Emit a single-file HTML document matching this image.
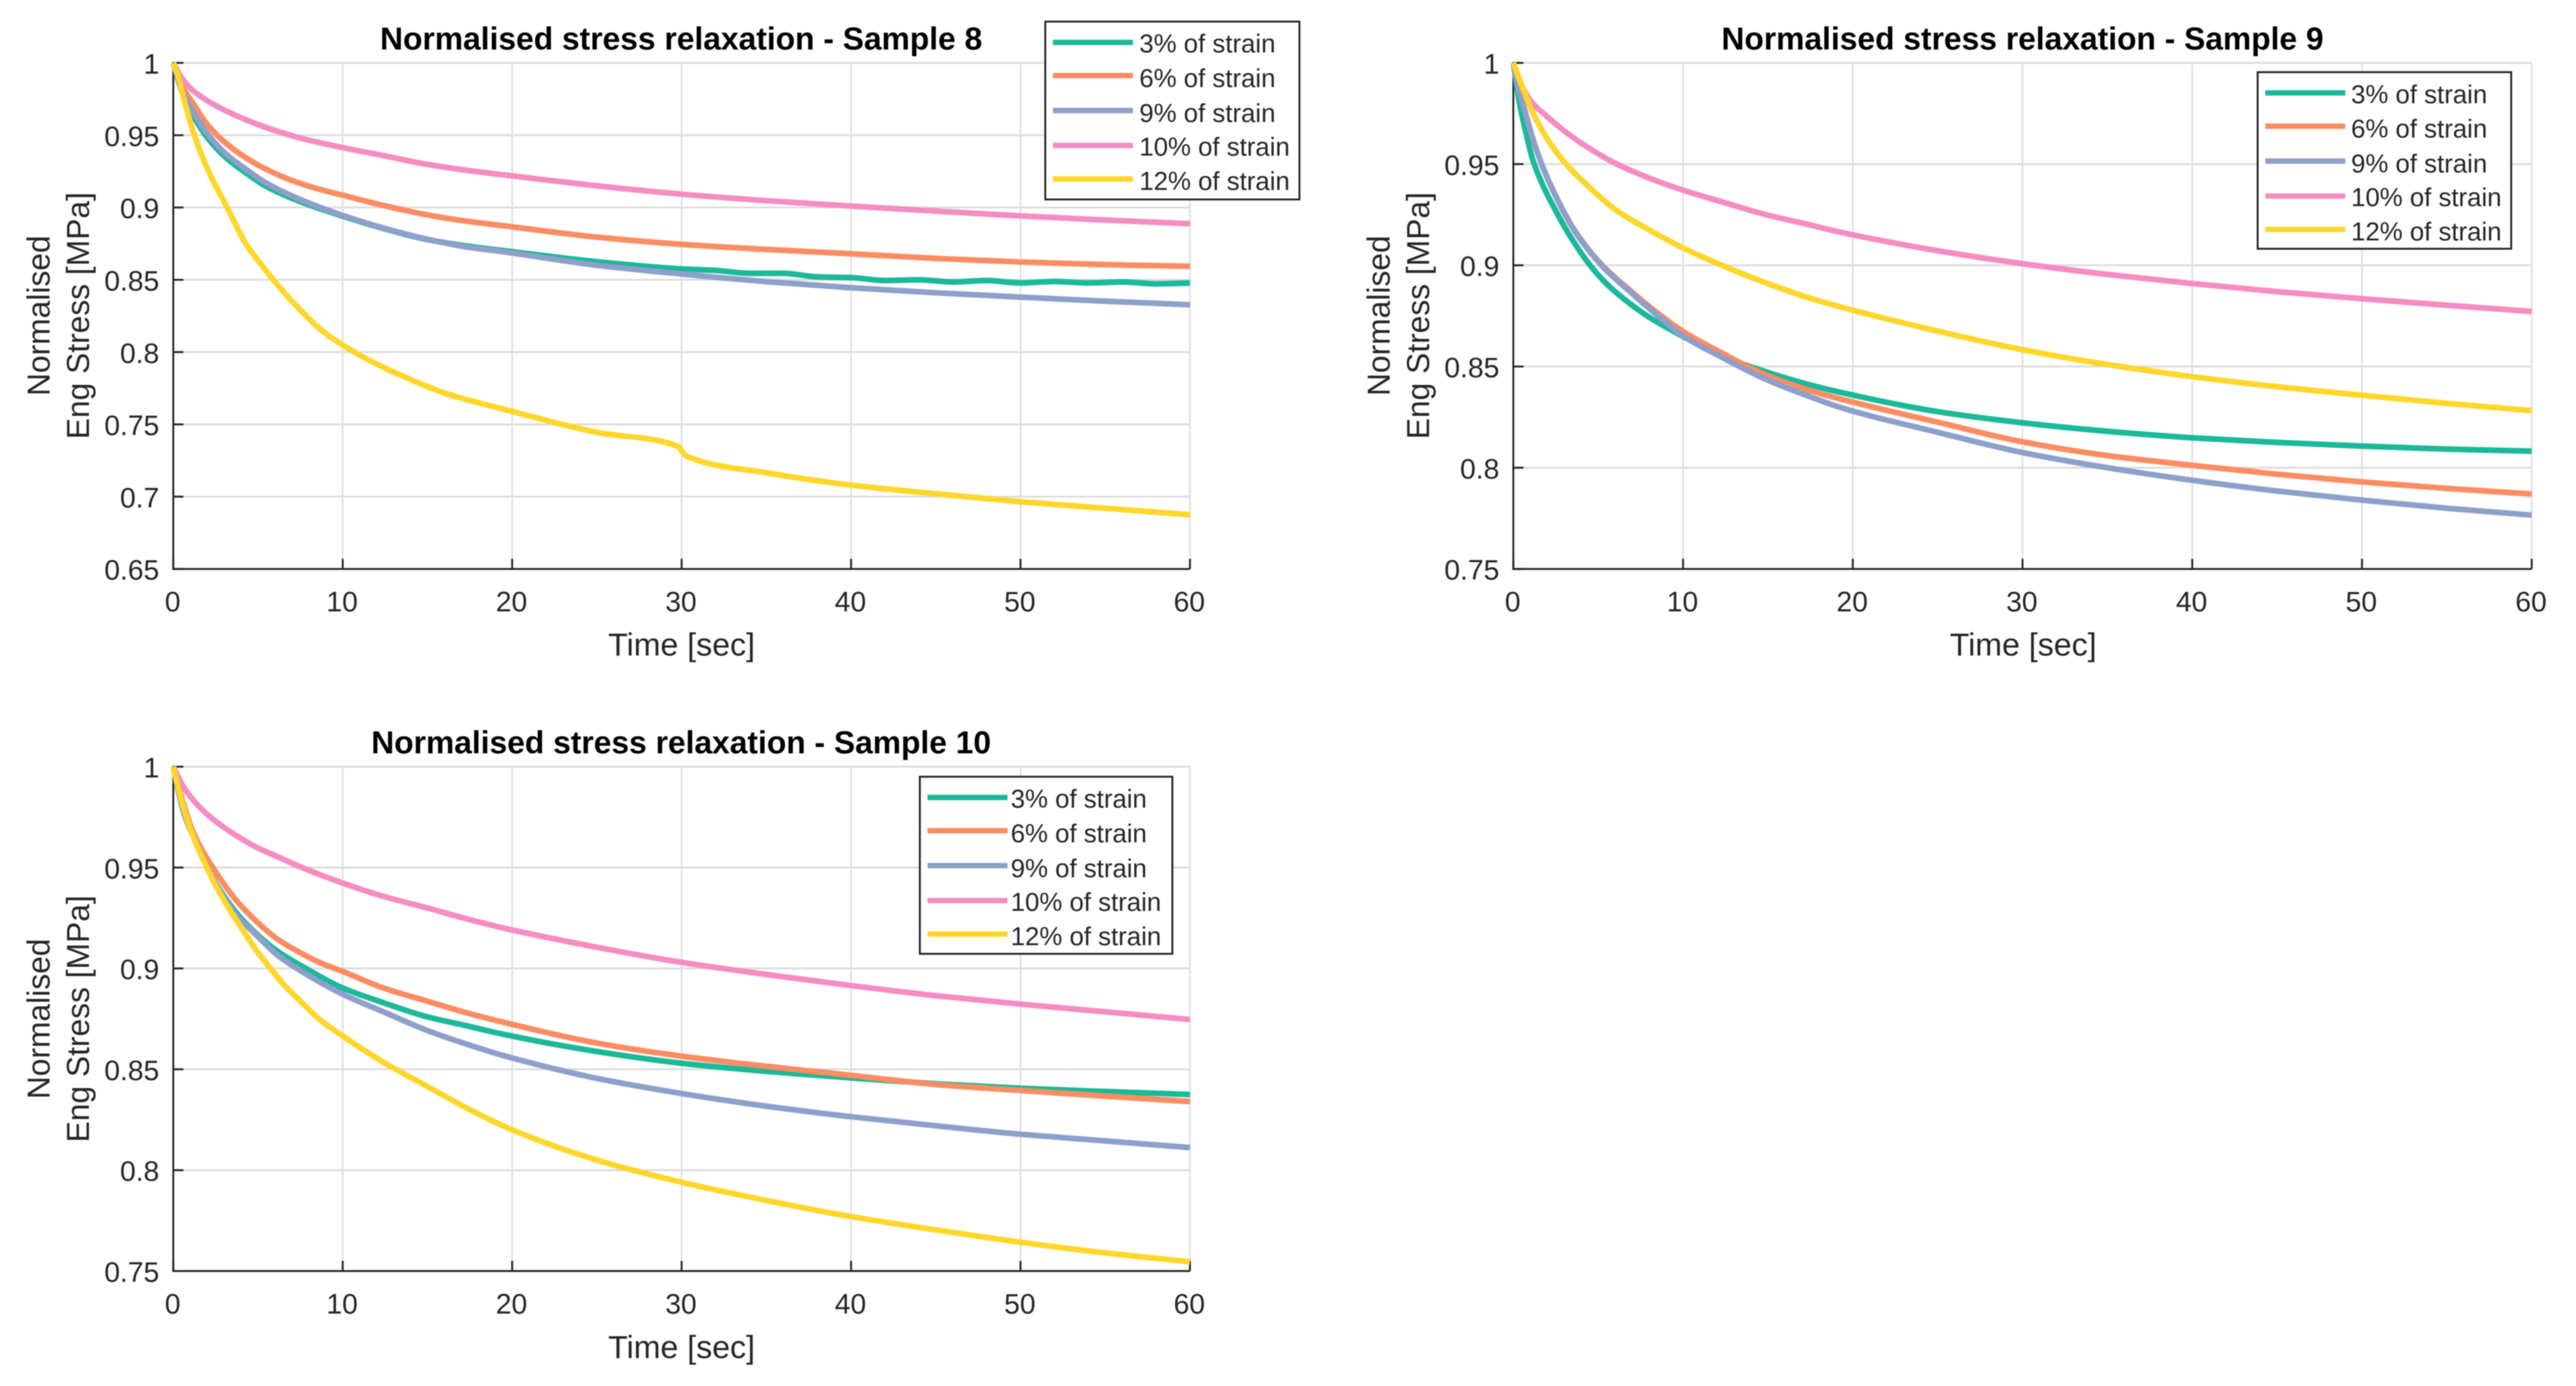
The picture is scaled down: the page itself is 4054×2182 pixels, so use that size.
<!DOCTYPE html>
<html lang="en">
<head>
<meta charset="utf-8">
<title>Normalised stress relaxation</title>
<style>
html,body{margin:0;padding:0;background:#fff;width:4054px;height:2182px;overflow:hidden}
svg{display:block;filter:blur(0.9px)}
text{font-family:"Liberation Sans",Arial,sans-serif;fill:#262626}
</style>
</head>
<body>
<svg id="figure" xmlns="http://www.w3.org/2000/svg" width="4054" height="2182" viewBox="0 0 4054 2182">
<rect width="4054" height="2182" fill="#ffffff"/>
<g id="panel8"></g>
<g id="panel9"></g>
<g id="panel10"></g>
<text x="1072" y="78" text-anchor="middle" font-size="50" font-weight="700" style="fill:#000">Normalised stress relaxation - Sample 8</text>
<text x="3183" y="78" text-anchor="middle" font-size="50" font-weight="700" style="fill:#000">Normalised stress relaxation - Sample 9</text>
<text x="1072" y="1186" text-anchor="middle" font-size="50" font-weight="700" style="fill:#000">Normalised stress relaxation - Sample 10</text>
<text x="1072.7" y="1032" text-anchor="middle" font-size="50.5">Time [sec]</text>
<text x="3184" y="1032" text-anchor="middle" font-size="50.5">Time [sec]</text>
<text x="1072.7" y="2138" text-anchor="middle" font-size="50.5">Time [sec]</text>
<g font-size="50" text-anchor="middle">
<text transform="translate(78,497) rotate(-90)">Normalised</text>
<text transform="translate(140,497) rotate(-90)">Eng Stress [MPa]</text>
</g>
<g font-size="50" text-anchor="middle">
<text transform="translate(2187,497) rotate(-90)">Normalised</text>
<text transform="translate(2249,497) rotate(-90)">Eng Stress [MPa]</text>
</g>
<g font-size="50" text-anchor="middle">
<text transform="translate(78,1604) rotate(-90)">Normalised</text>
<text transform="translate(140,1604) rotate(-90)">Eng Stress [MPa]</text>
</g>
</svg>
<script>
// ---- shared chart data ----
const xTickValues = [0, 10, 20, 30, 40, 50, 60];
const legendLabels = ['3% of strain', '6% of strain', '9% of strain', '10% of strain', '12% of strain'];
const seriesKeys = ['strain-3', 'strain-6', 'strain-9', 'strain-10', 'strain-12'];

// ---- sample 8 ----
const yTicks8 = [0.65, 0.7, 0.75, 0.8, 0.85, 0.9, 0.95, 1];
const t8Strain3 = [0, .3, .6, 1.15, 2, 3.15, 4.3, 5.5, 7.4, 10, 12.4, 14.9, 17.4, 19.4, 25, 30, 32, 34, 36, 38, 40, 42, 44, 46, 48, 50, 52, 54, 56, 58, 60];
const s8Strain3 = [1, .9875, .9775, .964, .9485, .934, .9238, .9145, .9045, .894, .8855, .878, .8732, .8703, .8625, .8575, .8565, .8545, .8545, .852, .8515, .8495, .850, .8485, .8495, .8478, .8488, .8478, .8485, .8472, .8478];
const t8Strain6 = [0, .3, .6, 1.15, 2, 3.15, 4.9, 6.4, 7.4, 8.65, 10, 12.4, 14.9, 17.4, 19.4, 25, 30, 35, 40, 45, 50, 55, 60];
const s8Strain6 = [1, .990, .982, .9723, .9575, .944, .93, .9215, .917, .9125, .9085, .9014, .8951, .8904, .8875, .8795, .8745, .871, .868, .8648, .8623, .8605, .8593];
const t8Strain9 = [0, .3, .6, 1.15, 2, 3.15, 4.3, 5.5, 7.4, 10, 12.4, 14.9, 17.4, 19.4, 25, 30, 35, 40, 45, 50, 55, 60];
const s8Strain9 = [1, .988, .9785, .9666, .9512, .9366, .9263, .9168, .906, .8945, .8858, .8783, .8725, .8695, .86, .854, .8487, .8445, .841, .838, .8352, .8327];
const t8Strain10 = [0, .5, 1.15, 2, 3.15, 4.9, 6.15, 7.4, 10, 12.4, 14.9, 17.4, 19.4, 25, 30, 35, 40, 45, 50, 55, 60];
const s8Strain10 = [1, .9895, .981, .9739, .9666, .9578, .9527, .9483, .9414, .9359, .93, .9256, .9227, .915, .9092, .9047, .901, .8975, .8942, .8913, .8888];
const t8Strain12 = [0, .27, .65, 1.15, 2, 3.15, 3.9, 4.27, 5.15, 6.15, 6.9, 7.8, 8.65, 10, 11.77, 13.65, 16.15, 19.4, 25, 29.8, 30, 30.3, 35, 40, 45, 50, 55, 60];
const s8Strain12 = [1, .9915, .9739, .9534, .927, .9007, .8831, .8751, .8612, .8465, .8365, .8255, .816, .8048, .7931, .7828, .7711, .7608, .7445, .7347, .7317, .728, .7165, .708, .702, .6965, .692, .6875];

// ---- sample 9 ----
const yTicks9 = [0.75, 0.8, 0.85, 0.9, 0.95, 1];
const t9Strain3 = [0, .36, .74, 1.11, 1.74, 2.36, 3.23, 4.48, 5.48, 6.73, 7.98, 9.97, 12.35, 14.85, 17.35, 19.3, 25, 30, 35, 40, 45, 50, 55, 60];
const s9Strain3 = [1, .9803, .9657, .9531, .9395, .9291, .916, .9005, .891, .882, .8745, .865, .855, .8475, .8412, .8372, .8277, .8222, .818, .8148, .8125, .8107, .8092, .8082];
const t9Strain6 = [0, .3, .61, 1.11, 1.74, 2.36, 3.61, 5.23, 6.73, 8.6, 9.97, 12.35, 14.85, 17.35, 19.3, 25, 30, 35, 40, 45, 50, 55, 60];
const s9Strain6 = [1, .9875, .9785, .9635, .9485, .9367, .9173, .9001, .8887, .8757, .8675, .8564, .8459, .8385, .8339, .8225, .8128, .806, .8012, .7968, .793, .7898, .787];
const t9Strain9 = [0, .3, .61, 1.11, 1.74, 2.36, 3.61, 5.23, 6.73, 8.6, 9.97, 12.35, 14.85, 17.35, 19.3, 25, 30, 35, 40, 45, 50, 55, 60];
const s9Strain9 = [1, .9875, .9785, .9635, .9485, .9365, .917, .8997, .888, .8745, .8653, .8543, .8438, .8355, .8297, .8175, .8075, .8, .7938, .7885, .784, .78, .7766];
const t9Strain10 = [0, .5, .8, 1.11, 1.99, 3.11, 4.36, 6.1, 7.98, 9.97, 12.35, 14.85, 17.35, 19.3, 25, 30, 35, 40, 45, 50, 55, 60];
const s9Strain10 = [1, .9887, .984, .9803, .9735, .9657, .9584, .95, .9432, .9372, .9312, .9251, .9202, .9163, .9072, .9008, .8955, .891, .887, .8835, .8803, .8772];
const t9Strain12 = [0, .61, 1.11, 1.99, 3.11, 4.36, 6.1, 7.98, 9.97, 12.35, 14.85, 17.35, 19.3, 25, 30, 35, 40, 45, 50, 55, 60];
const s9Strain12 = [1, .9866, .9762, .9626, .95, .9395, .927, .9176, .9087, .8998, .8914, .8841, .8794, .8675, .8583, .851, .845, .84, .8358, .8318, .8282];

// ---- sample 10 ----
const yTicks10 = [0.75, 0.8, 0.85, 0.9, 0.95, 1];
const t10Strain3 = [0, .3, .65, 1.15, 1.78, 2.28, 3.65, 4.9, 6.15, 7.78, 10, 12.4, 14.9, 17.4, 19.4, 25, 30, 35, 40, 45, 50, 55, 60];
const s10Strain3 = [1, .9879, .9764, .9659, .9538, .9455, .9283, .9172, .9085, .9002, .8903, .883, .8762, .8714, .8675, .8588, .853, .849, .8457, .8428, .8406, .839, .8375];
const t10Strain6 = [0, .53, 1.15, 1.78, 2.4, 3.65, 4.9, 6.15, 7.4, 8.65, 10, 12.4, 14.9, 17.4, 19.4, 25, 30, 35, 40, 45, 50, 55, 60];
const s10Strain6 = [1, .9837, .968, .9575, .9491, .9344, .9234, .9145, .9082, .9029, .8985, .8903, .884, .8778, .8735, .863, .8565, .8515, .847, .8425, .8395, .8367, .834];
const t10Strain9 = [0, .3, .65, 1.15, 1.78, 2.28, 3.65, 4.9, 6.15, 7.78, 10, 12.4, 14.9, 17.4, 19.4, 25, 30, 35, 40, 45, 50, 55, 60];
const s10Strain9 = [1, .9879, .9764, .9659, .9538, .9455, .9271, .9166, .9066, .8975, .8872, .8785, .8695, .8622, .857, .8455, .838, .8317, .8265, .822, .8178, .8145, .8112];
const t10Strain10 = [0, .53, 1.15, 2, 3.15, 4.9, 6.15, 7.4, 10, 12.4, 14.9, 17.4, 19.4, 25, 30, 35, 40, 45, 50, 55, 60];
const s10Strain10 = [1, .9911, .9837, .9764, .969, .9601, .9554, .9507, .9423, .9357, .9302, .9244, .9202, .9105, .903, .897, .8915, .8865, .8823, .8785, .8747];
const t10Strain12 = [0, .28, .65, 1.15, 1.96, 2.4, 3.15, 4.15, 4.9, 5.71, 6.53, 7.4, 8.65, 10, 12.5, 15, 17.5, 20, 25, 30, 35, 40, 45, 50, 55, 60];
const s10Strain12 = [1, .99, .9785, .9659, .9505, .9428, .9315, .9185, .909, .9003, .8919, .8846, .8746, .8665, .853, .8415, .83, .82, .805, .794, .785, .777, .7704, .7643, .759, .7546];

const seriesColors = ['#1ab999', '#fc8c62', '#8da0cb', '#f58cc2', '#ffd62a'];

const panels = [
  { key: 'sample-8', group: 'panel8', left: 272.7, right: 1872.7, top: 99, bottom: 895.7, yTicks: yTicks8,
    times: [t8Strain3, t8Strain6, t8Strain9, t8Strain10, t8Strain12],
    values: [s8Strain3, s8Strain6, s8Strain9, s8Strain10, s8Strain12],
    legend: { x: 1645, y: 34, w: 400, h: 280, textInset: 148 } },
  { key: 'sample-9', group: 'panel9', left: 2381.6, right: 3984.3, top: 99, bottom: 895.7, yTicks: yTicks9,
    times: [t9Strain3, t9Strain6, t9Strain9, t9Strain10, t9Strain12],
    values: [s9Strain3, s9Strain6, s9Strain9, s9Strain10, s9Strain12],
    legend: { x: 3553, y: 113.6, w: 399, h: 278, textInset: 147 } },
  { key: 'sample-10', group: 'panel10', left: 272.7, right: 1872.7, top: 1207, bottom: 2001, yTicks: yTicks10,
    times: [t10Strain3, t10Strain6, t10Strain9, t10Strain10, t10Strain12],
    values: [s10Strain3, s10Strain6, s10Strain9, s10Strain10, s10Strain12],
    legend: { x: 1447.6, y: 1222.8, w: 397.4, h: 278.8, textInset: 143 } }
];

const SVG_NS = 'http://www.w3.org/2000/svg';
function make(parent, tag, attrs) {
  const el = document.createElementNS(SVG_NS, tag);
  for (const k in attrs) el.setAttribute(k, attrs[k]);
  parent.appendChild(el);
  return el;
}

// Monotone cubic path through the data points, mapped through the axis functions.
function curvePath(ts, vs, xAt, yAt) {
  const n = ts.length;
  const xs = ts.map(xAt);
  const ys = vs.map(yAt);
  const d = [];
  for (let i = 0; i < n - 1; i++) d.push((ys[i + 1] - ys[i]) / (xs[i + 1] - xs[i]));
  const m = [d[0]];
  for (let i = 1; i < n - 1; i++) {
    if (d[i - 1] * d[i] <= 0) { m.push(0); continue; }
    const h0 = xs[i] - xs[i - 1];
    const h1 = xs[i + 1] - xs[i];
    const w1 = 2 * h1 + h0;
    const w2 = h1 + 2 * h0;
    m.push((w1 + w2) / (w1 / d[i - 1] + w2 / d[i]));
  }
  m.push(d[n - 2]);
  let p = 'M' + xs[0].toFixed(2) + ' ' + ys[0].toFixed(2);
  for (let i = 0; i < n - 1; i++) {
    const h = (xs[i + 1] - xs[i]) / 3;
    p += 'C' + (xs[i] + h).toFixed(2) + ' ' + (ys[i] + m[i] * h).toFixed(2) + ' ' +
         (xs[i + 1] - h).toFixed(2) + ' ' + (ys[i + 1] - m[i + 1] * h).toFixed(2) + ' ' +
         xs[i + 1].toFixed(2) + ' ' + ys[i + 1].toFixed(2);
  }
  return p;
}

panels.forEach(function (panel) {
  const g = document.getElementById(panel.group);
  const yMin = panel.yTicks[0];
  const yMax = panel.yTicks[panel.yTicks.length - 1];
  const xMax = xTickValues[xTickValues.length - 1];
  const xAt = function (t) { return panel.left + (t / xMax) * (panel.right - panel.left); };
  const yAt = function (v) { return panel.bottom - ((v - yMin) / (yMax - yMin)) * (panel.bottom - panel.top); };

  // grid
  panel.yTicks.forEach(function (v) {
    if (v === yMin) return;
    const line = make(g, 'line', { x1: panel.left, x2: panel.right, y1: yAt(v), y2: yAt(v), stroke: '#dcdcdc', 'stroke-width': 3 });
    
    
  });
  xTickValues.forEach(function (t) {
    if (t === 0) return;
    const line = make(g, 'line', { x1: xAt(t), x2: xAt(t), y1: panel.top, y2: panel.bottom, stroke: '#dedede', 'stroke-width': 2.5 });
    
    
  });

  // axes and ticks
  const yAxis = make(g, 'line', { x1: panel.left, x2: panel.left, y1: panel.top - 1, y2: panel.bottom + 1.5, stroke: '#262626', 'stroke-width': 3 });
  
  
  const xAxis = make(g, 'line', { x1: panel.left - 1.5, x2: panel.right, y1: panel.bottom, y2: panel.bottom, stroke: '#262626', 'stroke-width': 3 });
  
  

  panel.yTicks.forEach(function (v) {
    const tick = make(g, 'line', { x1: panel.left, x2: panel.left + 16, y1: yAt(v), y2: yAt(v), stroke: '#262626', 'stroke-width': 3 });
    
    
    const label = make(g, 'text', { x: panel.left - 22, y: yAt(v) + 17, 'text-anchor': 'end', 'font-size': 44.5 });
    
    
    label.textContent = String(v);
  });
  xTickValues.forEach(function (t) {
    const tick = make(g, 'line', { x1: xAt(t), x2: xAt(t), y1: panel.bottom, y2: panel.bottom - 16, stroke: '#262626', 'stroke-width': 3 });
    
    
    const label = make(g, 'text', { x: xAt(t) - 1, y: panel.bottom + 67, 'text-anchor': 'middle', 'font-size': 44.5 });
    
    
    label.textContent = String(t);
  });

  // series
  panel.values.forEach(function (vals, i) {
    const path = make(g, 'path', { d: curvePath(panel.times[i], vals, xAt, yAt), fill: 'none', stroke: seriesColors[i], 'stroke-width': 9, 'stroke-linejoin': 'round' });
    
    
  });

  // legend
  const box = panel.legend;
  const legend = make(g, 'g', {});
  
  
  const frame = make(legend, 'rect', { x: box.x, y: box.y, width: box.w, height: box.h, fill: '#ffffff', stroke: '#262626', 'stroke-width': 3 });
  
  
  const swatchOffsets = [32.7, 85, 140, 195, 247.7];
  const textOffsets = [48.7, 103, 158, 211, 265];
  legendLabels.forEach(function (name, i) {
    const swatch = make(legend, 'line', { x1: box.x + 12, x2: box.x + 138, y1: box.y + swatchOffsets[i], y2: box.y + swatchOffsets[i], stroke: seriesColors[i], 'stroke-width': 8.5 });
    
    
    const text = make(legend, 'text', { x: box.x + box.textInset, y: box.y + textOffsets[i], 'font-size': 40.6 });
    
    
    text.textContent = name;
  });
});
</script>
</body>
</html>
